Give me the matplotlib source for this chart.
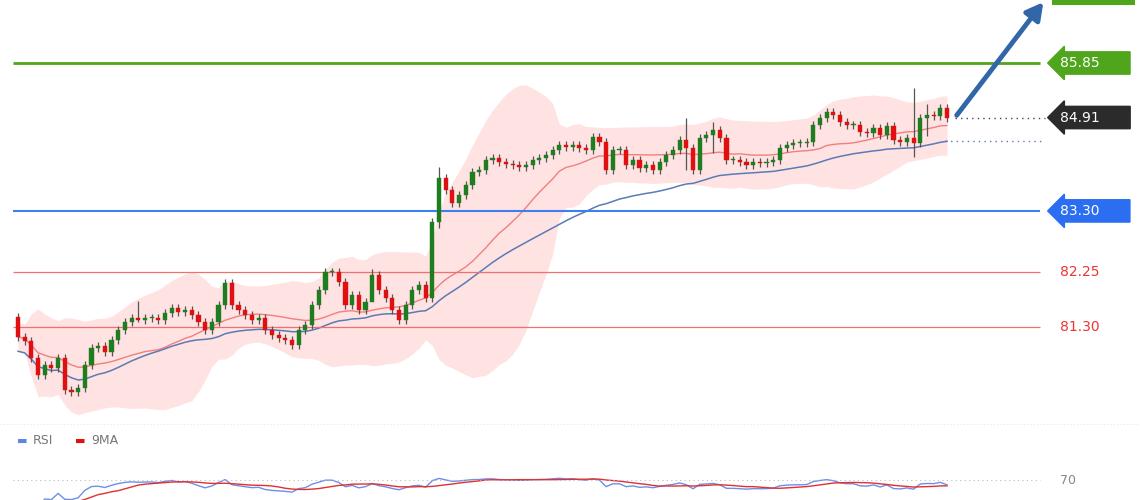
import numpy as np
import pandas as pd
import matplotlib
matplotlib.use("Agg")
import matplotlib.pyplot as plt
from matplotlib.patches import Rectangle

# closing prices, one per candle
closes = [81.13, 81.06, 80.76, 80.47, 80.64, 80.59, 80.76, 80.21, 80.18, 80.25,
          80.64, 80.94, 80.97, 80.87, 81.07, 81.25, 81.38, 81.45, 81.42, 81.45,
          81.45, 81.42, 81.54, 81.63, 81.56, 81.59, 81.51, 81.38, 81.25, 81.38,
          81.68, 82.06, 81.68, 81.59, 81.51, 81.42, 81.45, 81.25, 81.16, 81.11,
          81.07, 80.99, 81.25, 81.33, 81.68, 81.94, 82.25, 82.25, 82.07, 81.68,
          81.85, 81.59, 81.73, 82.19, 81.94, 81.80, 81.59, 81.42, 81.68, 81.94,
          82.02, 81.80, 83.11, 83.87, 83.66, 83.44, 83.57, 83.75, 83.97, 84.01,
          84.18, 84.21, 84.14, 84.11, 84.09, 84.06, 84.09, 84.18, 84.21, 84.26,
          84.35, 84.44, 84.40, 84.44, 84.38, 84.35, 84.57, 84.49, 84.01, 84.35,
          84.35, 84.09, 84.18, 84.04, 84.09, 84.01, 84.14, 84.26, 84.35, 84.52,
          84.38, 84.01, 84.56, 84.61, 84.69, 84.56, 84.18, 84.18, 84.14, 84.09,
          84.14, 84.13, 84.14, 84.18, 84.38, 84.44, 84.47, 84.47, 84.49, 84.78,
          84.90, 85.01, 84.95, 84.83, 84.78, 84.78, 84.66, 84.64, 84.73, 84.61,
          84.76, 84.52, 84.49, 84.56, 84.47, 84.90, 84.95, 84.94, 85.07, 84.91]
first_open = 81.47
# a few long wicks: index -> (high, low)
long_wicks = {18: (81.75, 81.38), 53: (82.30, 81.80), 63: (84.05, 83.0),
              100: (84.90, 84.00), 104: (84.83, 84.30), 134: (85.42, 84.23),
              136: (85.15, 84.60)}

levels_red = [82.25, 81.30]
support = 83.30
resist = 85.85
last_price = 84.91

c = np.array(closes)
o = np.concatenate([[first_open], c[:-1]])
n = len(c)
idx = np.arange(n)
hi = np.maximum(o, c) + 0.07
lo = np.minimum(o, c) - 0.07
for k, (h, l) in long_wicks.items():
    if k < n:
        hi[k], lo[k] = h, l

s = pd.Series(c)
ma20 = s.rolling(20, min_periods=1).mean()
sd20 = s.rolling(20, min_periods=2).std().bfill()
ma_slow = s.ewm(span=45).mean() - 0.25 * np.exp(-idx / 30)
up, dn = ma20 + 2 * sd20 + 0.15, ma20 - 2 * sd20 - 0.15

delta = s.diff().fillna(0)
gain = delta.clip(lower=0).ewm(alpha=1 / 14).mean()
loss = (-delta.clip(upper=0)).ewm(alpha=1 / 14).mean()
rsi = 100 - 100 / (1 + gain / (loss + 1e-9))
rsi_ma = rsi.rolling(9, min_periods=1).mean()

# pixel mapping: first candle at x=18 px, last at x=947 px
step = (947 - 18) / (n - 1)
x0 = -18 / step
x1 = (1140 - 18) / step
def px(p):
    return (p - 18) / step

fig = plt.figure(figsize=(11.4, 5), dpi=100)
ax = fig.add_axes([0, 0.15, 1, 0.85])
ax.set_xlim(x0, x1)
ax.set_ylim(85.85 - 362 / 58, 85.85 + 63 / 58)
ax.axis("off")

ax.fill_between(idx, dn, up, color="#ffd6d6", alpha=0.7, lw=0, zorder=1)
ax.plot(idx, ma20, color="#f08080", lw=1, zorder=2)
ax.plot(idx, ma_slow, color="#5a7bb5", lw=1.1, zorder=2)

for i in range(n):
    col = "#1e7d1e" if c[i] >= o[i] else "#e01010"
    ax.vlines(i, lo[i], hi[i], color="#555555", lw=0.9, zorder=3)
    b0, b1 = min(o[i], c[i]), max(o[i], c[i])
    ax.bar(i, max(b1 - b0, 0.02), bottom=b0, width=0.62, color=col,
           edgecolor=col, lw=0.3, zorder=4)

xl, xr = px(13), px(1040)
ax.hlines(resist, xl, xr, color="#4fa51c", lw=2, zorder=2)
ax.hlines(support, xl, xr, color="#3d7ff0", lw=1.5, zorder=2)
for lv in levels_red:
    ax.hlines(lv, xl, xr, color="#f07070", lw=0.9, zorder=2)
ax.hlines(last_price, px(955), px(1045), color="#444444", lw=1, ls=(0, (1, 3)))
ax.hlines(ma_slow.iloc[-1], px(945), px(1045), color="#5a7bb5", lw=1, ls=(0, (1, 3)))

def tag(y, text, fc):
    ax.text(px(1060), y, text + "      ", fontsize=10, color="white", va="center",
            ha="left", bbox=dict(boxstyle="larrow,pad=0.3", fc=fc, ec=fc), zorder=6)

tag(resist, "85.85", "#4fa51c")
tag(last_price, "84.91", "#2b2b2b")
tag(support, "83.30", "#2b6ef2")
for lv in levels_red:
    ax.text(px(1060), lv, f"{lv:.2f}", fontsize=10, color="#ee3333", va="center")
# partially visible upper target tag at the top edge
fig.add_artist(Rectangle((1052 / 1140, 1 - 5 / 500), 83 / 1140, 6 / 500,
                         transform=fig.transFigure, fc="#4fa51c", ec="none"))

ax.annotate("", xy=(px(1045), 85.85 + 63 / 58), xytext=(px(955), last_price),
            arrowprops=dict(arrowstyle="-|>,head_width=0.55,head_length=1.0",
                            color="#3166a8", lw=3.5), zorder=7)
ax.hlines(ax.get_ylim()[0] + 0.02, px(0), px(1140), color="#e6e6e6", lw=0.8, ls=(0, (1, 2)))

# RSI panel
rx = fig.add_axes([0, 0, 1, 0.14])
rx.set_xlim(x0, x1)
rx.set_ylim(20, 195)
rx.axis("off")
rx.plot(idx, rsi, color="#6d8fe8", lw=1)
rx.plot(idx, rsi_ma, color="#e03030", lw=1)
rx.hlines(70, px(13), px(1040), color="#bbbbbb", lw=0.8, ls=(0, (1, 3)))
rx.text(px(1060), 70, "70", fontsize=9, color="#888888", va="center")
fig.text(17 / 1140, 1 - 441 / 500, "\u25ac", color="#5b86e5", fontsize=8, va="center")
fig.text(33 / 1140, 1 - 441 / 500, "RSI", color="#777777", fontsize=9, va="center")
fig.text(75 / 1140, 1 - 441 / 500, "\u25ac", color="#e01010", fontsize=8, va="center")
fig.text(91 / 1140, 1 - 441 / 500, "9MA", color="#777777", fontsize=9, va="center")

fig.savefig("out.png", dpi=100)
